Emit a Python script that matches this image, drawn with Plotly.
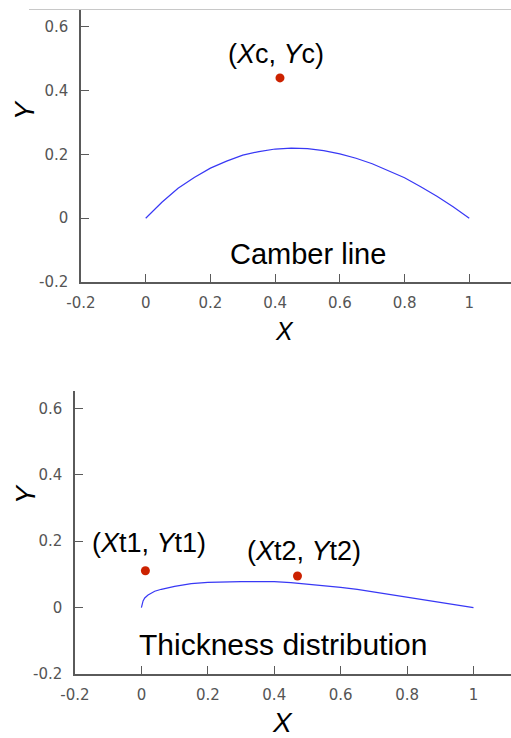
import plotly.graph_objects as go

# ---- data ----
camber_x = [0, 0.05, 0.1, 0.15, 0.2, 0.25, 0.3, 0.35, 0.4, 0.45, 0.5,
            0.55, 0.6, 0.65, 0.7, 0.75, 0.8, 0.85, 0.9, 0.95, 1.0]
camber_y = [0, 0.050, 0.094, 0.128, 0.157, 0.179, 0.198, 0.209, 0.217, 0.220, 0.218,
            0.212, 0.202, 0.188, 0.171, 0.150, 0.127, 0.099, 0.069, 0.036, 0]
camber_pt_x = [0.415]
camber_pt_y = [0.44]

thick_x = [0, 0.002, 0.005, 0.01, 0.02, 0.04, 0.06, 0.1, 0.15, 0.2, 0.25, 0.3, 0.35,
           0.4, 0.45, 0.5, 0.55, 0.6, 0.65, 0.7, 0.75, 0.8, 0.85, 0.9, 0.95, 1.0]
thick_y = [0, 0.011, 0.020, 0.029, 0.038, 0.049, 0.055, 0.064, 0.072, 0.076, 0.078, 0.078, 0.078,
           0.078, 0.075, 0.071, 0.066, 0.061, 0.055, 0.047, 0.040, 0.032, 0.024, 0.016, 0.008, 0]
thick_pt_x = [0.012, 0.47]
thick_pt_y = [0.111, 0.095]

tick_vals_x = [-0.2, 0, 0.2, 0.4, 0.6, 0.8, 1]
tick_text_x = ["-0.2", "0", "0.2", "0.4", "0.6", "0.8", "1"]
tick_vals_y = [-0.2, 0, 0.2, 0.4, 0.6]
tick_text_y = ["-0.2", "0", "0.2", "0.4", "0.6"]

W, H = 511, 738
LINE_BLUE = "#3838f5"
PT_RED = "#cc2200"
AX = "#5a5a5a"

fig = go.Figure()
fig.add_trace(go.Scatter(x=camber_x, y=camber_y, mode="lines",
                         line=dict(color=LINE_BLUE, width=1.2), xaxis="x", yaxis="y"))
fig.add_trace(go.Scatter(x=camber_pt_x, y=camber_pt_y, mode="markers",
                         marker=dict(color=PT_RED, size=9), xaxis="x", yaxis="y"))
fig.add_trace(go.Scatter(x=thick_x, y=thick_y, mode="lines",
                         line=dict(color=LINE_BLUE, width=1.2), xaxis="x2", yaxis="y2"))
fig.add_trace(go.Scatter(x=thick_pt_x, y=thick_pt_y, mode="markers",
                         marker=dict(color=PT_RED, size=9), xaxis="x2", yaxis="y2"))

def px(x):
    return x / W

def py(y):
    return 1 - y / H

tickfont = dict(family="DejaVu Sans", size=15, color="#555555")
common = dict(showgrid=False, zeroline=False, showline=True, linecolor=AX, linewidth=1.5,
              ticks="inside", ticklen=8, tickcolor=AX, tickwidth=1.2, tickfont=tickfont,
              fixedrange=True, automargin=False)

fig.update_layout(
    template="none",
    width=W, height=H, margin=dict(l=0, r=0, t=0, b=0, autoexpand=False),
    paper_bgcolor="white", plot_bgcolor="white", showlegend=False,
    xaxis=dict(domain=[px(81), 1], range=[-0.2, 1.129], anchor="y",
               tickvals=tick_vals_x, ticktext=tick_text_x, ticklabelstandoff=6, **common),
    yaxis=dict(domain=[py(282), py(10)], range=[-0.2, 0.653], anchor="x",
               tickvals=tick_vals_y, ticktext=tick_text_y, ticklabelstandoff=8, **common),
    xaxis2=dict(domain=[px(75), 1], range=[-0.2, 1.113], anchor="y2",
                tickvals=tick_vals_x, ticktext=tick_text_x, ticklabelstandoff=6, **common),
    yaxis2=dict(domain=[py(674), py(391)], range=[-0.2, 0.652], anchor="x2",
                tickvals=tick_vals_y, ticktext=tick_text_y, ticklabelstandoff=8, **common),
)

# light gray top rule
fig.add_shape(type="line", xref="paper", yref="paper", x0=px(29), x1=1, y0=py(9.5), y1=py(9.5),
              line=dict(color="#c8c8c8", width=1))

TXT = "Liberation Sans"

def ann(text, x, y, size, angle=0):
    fig.add_annotation(text=text, xref="paper", yref="paper", x=px(x), y=py(y),
                       xanchor="center", yanchor="middle", showarrow=False, textangle=angle,
                       font=dict(family=TXT, size=size, color="black"))

ann("(<i>X</i>c, <i>Y</i>c)", 275.5, 54, 27)
ann("Camber line", 308, 254, 29)
ann("<i>X</i>", 284, 331, 25)
ann("<i>Y</i>", 25, 110, 27, -90)

ann("(<i>X</i>t1, <i>Y</i>t1)", 149, 543, 27)
ann("(<i>X</i>t2, <i>Y</i>t2)", 303.5, 551, 27)
ann("Thickness distribution", 283, 644, 30)
ann("<i>X</i>", 282, 722, 28)
ann("<i>Y</i>", 26, 494, 27, -90)

fig.write_html("out.html", config={"displayModeBar": False},
               post_script="document.body.style.margin='0';document.body.style.overflow='hidden';")
